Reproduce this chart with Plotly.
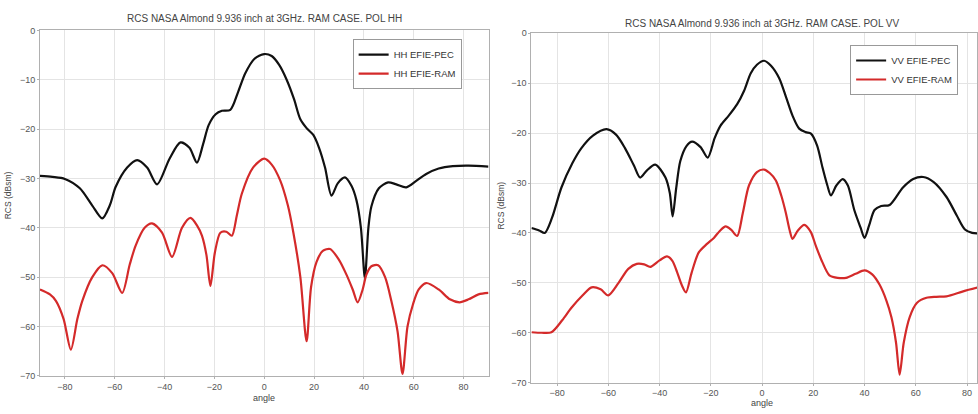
import plotly.graph_objects as go

# ---------------- data ----------------
hh_pec_angle = [-90, -85, -80, -74, -69, -65, -62, -59.6, -55, -51, -47, -43, -38, -33.6, -30, -27, -24.5, -22.3, -19.5, -17, -13.6, -10.5, -7.6, -4, 0, 3, 6, 9, 12, 14.4, 17, 19.7, 22, 24.4, 27, 29.5, 32.4, 35, 37, 38.8, 40.4, 41.8, 43, 46, 49.7, 53, 57, 61, 65, 70, 75.7, 82, 90]
hh_pec_db = [-29.5, -29.7, -30.1, -32.0, -35.5, -38.1, -35.5, -31.7, -27.8, -26.3, -27.8, -31.2, -26.0, -22.7, -23.8, -26.8, -23.0, -19.2, -17.0, -16.3, -16.1, -12.5, -8.7, -5.8, -4.8, -5.2, -7.0, -10.0, -14.0, -17.9, -19.8, -21.2, -23.8, -27.8, -33.5, -31.0, -29.8, -31.5, -34.4, -40.0, -50.2, -40.0, -35.7, -32.0, -30.8, -31.2, -31.8, -30.5, -29.1, -28.0, -27.5, -27.4, -27.6]

hh_ram_angle = [-90, -86, -83.6, -80.5, -77.6, -75, -73, -69, -65, -61, -57, -54, -51.6, -48, -45, -41, -37, -33, -29.6, -27, -25, -23.2, -21.6, -19.8, -17.6, -15.2, -13, -11, -9, -4.5, 0, 3, 6.4, 9.5, 11.7, 14.5, 17, 18.8, 21, 23.5, 26.4, 30, 33, 35.5, 37.5, 39.5, 41, 43, 45.7, 48.5, 51, 53.5, 55.5, 57.5, 59.7, 62, 65, 70, 74.5, 78.4, 82, 86, 90]
hh_ram_db = [-52.5, -53.5, -54.8, -58.5, -64.7, -58.5, -54.8, -50.0, -47.6, -49.2, -53.2, -47.5, -43.6, -40.0, -39.1, -41.0, -45.9, -40.0, -38.0, -39.5, -41.6, -45.5, -51.8, -45.0, -41.0, -40.8, -41.6, -37.5, -33.1, -27.8, -26.0, -27.2, -30.4, -35.5, -41.0, -50.0, -63.0, -52.0, -46.9, -44.7, -44.3, -46.5, -49.5, -52.5, -55.1, -52.5, -49.5, -47.8, -47.6, -50.0, -54.8, -61.0, -69.6, -60.0, -55.5, -52.5, -51.2, -52.5, -54.5, -55.1, -54.5, -53.5, -53.2]

vv_pec_angle = [-90, -87, -84.8, -82, -78.3, -74, -70.5, -66, -60.7, -57, -53.5, -50, -47.6, -45, -41.7, -37.7, -36, -34.9, -33.5, -31.9, -29.5, -27.3, -24, -21.2, -18.5, -16.2, -13, -9.7, -7, -4.4, -2, 0.8, 3.5, 6.7, 9.5, 11.9, 14.5, 17, 19.1, 21.5, 23.6, 25.5, 26.9, 29, 31.5, 33.5, 36, 38.5, 40, 41.8, 43.9, 46.5, 49.8, 55, 59, 62.9, 67, 72, 76, 79.2, 82, 84.5]
vv_pec_db = [-39.0, -39.5, -40.0, -37.0, -30.9, -26.0, -23.0, -20.5, -19.2, -20.3, -23.0, -26.5, -28.9, -27.5, -26.3, -28.9, -32.0, -36.7, -31.0, -25.6, -22.6, -21.7, -22.8, -24.9, -21.0, -18.5, -16.5, -14.2, -11.5, -8.0, -6.3, -5.5, -6.5, -9.0, -13.0, -16.5, -19.1, -19.8, -20.1, -22.5, -26.9, -30.5, -32.5, -30.5, -29.2, -30.5, -35.4, -39.0, -41.0, -38.5, -35.4, -34.6, -34.4, -30.9, -29.2, -28.8, -29.8, -32.8, -36.5, -39.3, -40.0, -40.1]

vv_ram_angle = [-90, -86, -82.2, -78, -74.4, -70, -66.5, -63, -60, -56, -52.2, -48.9, -46, -43.6, -40, -37.1, -35, -33.2, -31.3, -29.7, -27.5, -24.7, -21.5, -18.8, -16.5, -14.2, -12, -9.7, -7.5, -5.1, -2, 0.8, 3, 5.4, 7.5, 9.3, 10.8, 11.9, 14, 16.5, 19, 21, 23.5, 26.3, 29.5, 32.8, 36.5, 40, 43, 45.9, 48.5, 50.5, 52.3, 53.7, 55.3, 57.6, 60.5, 64.2, 68, 72, 78.5, 84.5]
vv_ram_db = [-59.9, -60.0, -59.9, -57.5, -55.0, -52.5, -50.9, -51.3, -52.5, -50.0, -47.2, -46.2, -46.3, -46.8, -45.5, -44.7, -45.6, -47.8, -50.5, -51.9, -48.0, -43.9, -42.2, -41.0, -39.6, -38.7, -39.4, -40.6, -36.0, -30.5, -27.8, -27.3, -28.0, -29.5, -32.5, -36.0, -39.5, -41.2, -39.5, -38.4, -39.8, -42.6, -45.8, -48.5, -49.0, -49.0, -48.2, -47.5, -48.3, -50.4, -53.5, -56.9, -62.0, -68.4, -62.0, -56.9, -54.0, -53.0, -52.8, -52.7, -51.7, -50.9]

x_ticks = [-80, -60, -40, -20, 0, 20, 40, 60, 80]
y_ticks = [0, -10, -20, -30, -40, -50, -60, -70]

title_hh = "RCS NASA Almond 9.936 inch at 3GHz. RAM CASE. POL HH"
title_vv = "RCS NASA Almond 9.936 inch at 3GHz. RAM CASE. POL VV"

# ---------------- figure ----------------
W, H = 978, 414
fig = go.Figure()

def px_x(p):
    return p / W

def px_y(p):
    return 1 - p / H

FONT = "Liberation Sans, Arial, sans-serif"
line_black = dict(color="#111111", width=2.2, shape="spline", smoothing=0.8)
line_red = dict(color="#d42a2a", width=2.2, shape="spline", smoothing=0.8)

fig.add_trace(go.Scatter(x=hh_pec_angle, y=hh_pec_db, mode="lines", name="HH EFIE-PEC",
                         line=line_black, xaxis="x", yaxis="y", legend="legend"))
fig.add_trace(go.Scatter(x=hh_ram_angle, y=hh_ram_db, mode="lines", name="HH EFIE-RAM",
                         line=line_red, xaxis="x", yaxis="y", legend="legend"))
fig.add_trace(go.Scatter(x=vv_pec_angle, y=vv_pec_db, mode="lines", name="VV EFIE-PEC",
                         line=line_black, xaxis="x2", yaxis="y2", legend="legend2"))
fig.add_trace(go.Scatter(x=vv_ram_angle, y=vv_ram_db, mode="lines", name="VV EFIE-RAM",
                         line=line_red, xaxis="x2", yaxis="y2", legend="legend2"))

tick_font = dict(family=FONT, size=9, color="#555555")
axis_common = dict(showgrid=True, gridcolor="#e4e4e4", gridwidth=1, zeroline=False,
                   showline=True, linecolor="#b0b0b0", linewidth=1, mirror=True,
                   ticks="outside", ticklen=2, tickcolor="#b0b0b0", tickfont=tick_font)

legend_common = dict(xanchor="left", yanchor="top",
                     bgcolor="white", bordercolor="#999999", borderwidth=1,
                     font=dict(family=FONT, size=9.5, color="#333333"),
                     tracegroupgap=0, itemwidth=30)

fig.update_layout(
    width=W, height=H,
    margin=dict(l=0, r=0, t=0, b=0),
    paper_bgcolor="white", plot_bgcolor="white",
    showlegend=True,
    xaxis=dict(domain=[px_x(40), px_x(489)], range=[-90, 90], anchor="y",
               tickvals=x_ticks, **axis_common),
    yaxis=dict(domain=[px_y(380), px_y(26)], range=[-70, 0], anchor="x",
               tickvals=y_ticks, **axis_common),
    xaxis2=dict(domain=[px_x(532), 1.0], range=[-90, 83.9], anchor="y2",
                tickvals=x_ticks, **axis_common),
    yaxis2=dict(domain=[px_y(387), px_y(29)], range=[-70, 0], anchor="x2",
                tickvals=y_ticks, **axis_common),
    legend=dict(x=px_x(353), y=px_y(35), **legend_common),
    legend2=dict(x=px_x(851), y=px_y(41), **legend_common),
)

ann_font = dict(family=FONT, size=10, color="#444444")
small_font = dict(family=FONT, size=8.5, color="#444444")
annotations = [
    dict(text=title_hh, x=px_x(265), y=px_y(14), xref="paper", yref="paper",
         showarrow=False, font=ann_font, xanchor="center", yanchor="middle"),
    dict(text=title_vv, x=px_x(763), y=px_y(19), xref="paper", yref="paper",
         showarrow=False, font=ann_font, xanchor="center", yanchor="middle"),
    dict(text="RCS (dBsm)", x=px_x(8), y=px_y(195), xref="paper", yref="paper",
         showarrow=False, font=small_font, textangle=-90, xanchor="center", yanchor="middle"),
    dict(text="RCS (dBsm)", x=px_x(502), y=px_y(205), xref="paper", yref="paper",
         showarrow=False, font=small_font, textangle=-90, xanchor="center", yanchor="middle"),
    dict(text="angle", x=px_x(264), y=px_y(403), xref="paper", yref="paper",
         showarrow=False, font=dict(family=FONT, size=9, color="#444444"),
         xanchor="center", yanchor="middle"),
    dict(text="angle", x=px_x(763), y=px_y(408), xref="paper", yref="paper",
         showarrow=False, font=dict(family=FONT, size=9, color="#444444"),
         xanchor="center", yanchor="middle"),
]
fig.update_layout(annotations=annotations)

fig.write_html("out.html")
